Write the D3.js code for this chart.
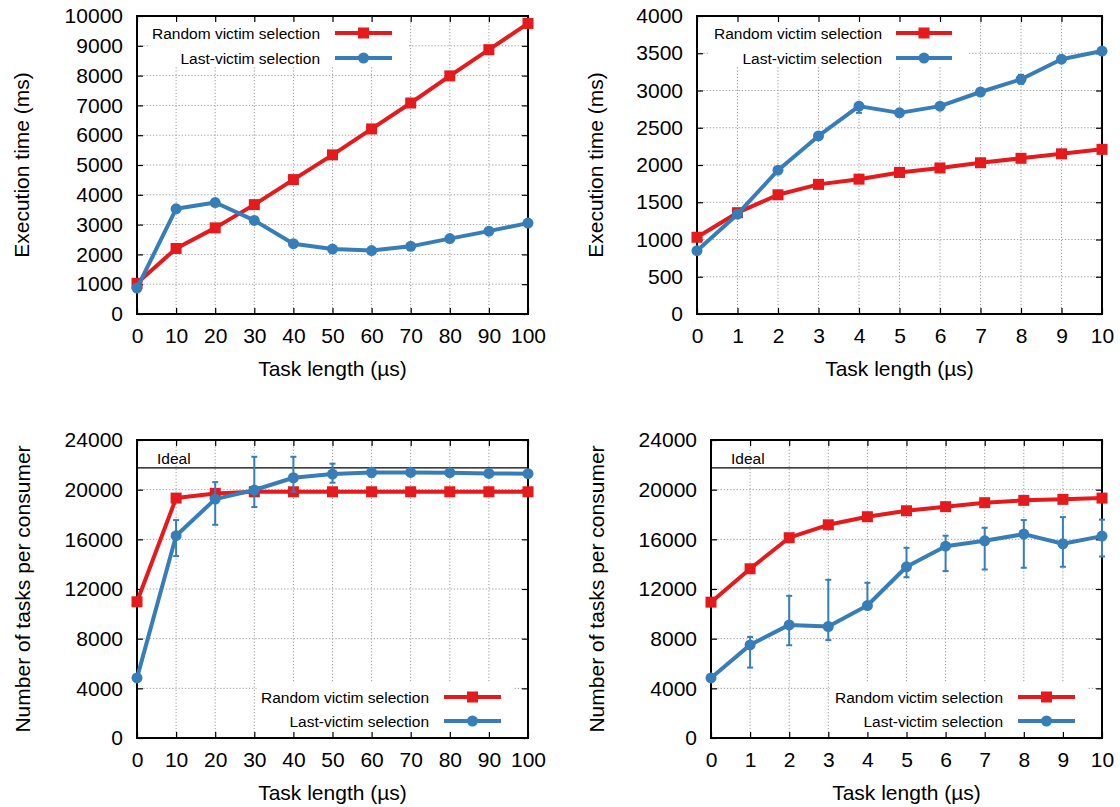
<!DOCTYPE html>
<meta charset="utf-8">
<html>
<style>
  body { margin: 0; background: #fff; }
  svg { display: block; }
  text { font-family: "Liberation Sans", Arial, Helvetica, sans-serif; fill: #000; }
  .tick-label { font-size: 21px; }
  .axis-label { font-size: 21px; }
  .key-label { font-size: 15.5px; }
  .grid line { stroke: #999; stroke-width: 1; stroke-dasharray: 1.2,2; }
</style>
<body>
<svg width="1120" height="807"></svg>
<script src="https://d3js.org/d3.v7.min.js"></script>
<script>

// ---- data ----
var xLong = [0, 10, 20, 30, 40, 50, 60, 70, 80, 90, 100];
var xShort = [0, 1, 2, 3, 4, 5, 6, 7, 8, 9, 10];

var timeTicksLong = [0, 1000, 2000, 3000, 4000, 5000, 6000, 7000, 8000, 9000, 10000];
var timeTicksShort = [0, 500, 1000, 1500, 2000, 2500, 3000, 3500, 4000];
var taskTicks = [0, 4000, 8000, 12000, 16000, 20000, 24000];

var timeLongRandom = [1030, 2200, 2890, 3670, 4510, 5340, 6210, 7080, 7990, 8870, 9750];
var timeLongLast   = [870, 3530, 3740, 3140, 2360, 2180, 2130, 2270, 2530, 2780, 3050];

var timeShortRandom = [1030, 1360, 1600, 1740, 1810, 1900, 1960, 2030, 2090, 2150, 2210];
var timeShortLast   = [850, 1340, 1930, 2390, 2790, 2700, 2790, 2980, 3150, 3420, 3530];
var timeShortLastLo = [null, null, null, null, 2700, null, null, null, 3090, null, null];
var timeShortLastHi = [null, null, null, null, 2830, null, null, null, 3210, null, null];

var tasksLongRandom = [10970, 19320, 19700, 19830, 19830, 19830, 19830, 19830, 19830, 19830, 19830];
var tasksLongLast   = [4840, 16290, 19240, 19970, 20960, 21260, 21390, 21390, 21370, 21310, 21290];
var tasksLongLastLo = [null, 14650, 17170, 18600, 19830, 20560, 21040, 21200, null, null, null];
var tasksLongLastHi = [null, 17550, 20610, 22650, 22650, 22090, 21720, 21580, null, null, null];

var tasksShortRandom = [10940, 13630, 16130, 17170, 17820, 18300, 18630, 18950, 19140, 19220, 19320];
var tasksShortLast   = [4840, 7500, 9110, 8980, 10670, 13790, 15450, 15880, 16420, 15640, 16260];
var tasksShortLastLo = [null, 5670, 7470, 7880, 10400, 12950, 13440, 13570, 13710, 13790, 14620];
var tasksShortLastHi = [null, 8140, 11450, 12740, 12500, 15320, 16290, 16930, 17550, 17790, 17580];

var idealTasks = 21760;

var seriesNames = ["Random victim selection", "Last-victim selection"];
var red = "#e41a1c", blue = "#377eb8";

var svg = d3.select("svg");

var panels = [
  { left: 137, right: 528, top: 16, bottom: 314, x: xLong, xmax: 100, yticks: timeTicksLong,
    ymax: 10000, ylabel: "Execution time (ms)", ylabX: 22,
    random: timeLongRandom, last: timeLongLast, lo: null, hi: null, ideal: null,
    key: { x0: 150, x1: 407, y0: 16, y1: 67, textEnd: 320, lineX0: 335, lineX1: 392, rowY: [33, 58] } },
  { left: 697, right: 1102, top: 16, bottom: 314, x: xShort, xmax: 10, yticks: timeTicksShort,
    ymax: 4000, ylabel: "Execution time (ms)", ylabX: 596,
    random: timeShortRandom, last: timeShortLast, lo: timeShortLastLo, hi: timeShortLastHi, ideal: null,
    key: { x0: 710, x1: 967, y0: 16, y1: 67, textEnd: 882, lineX0: 896, lineX1: 952, rowY: [33, 58] } },
  { left: 137, right: 528, top: 440, bottom: 738, x: xLong, xmax: 100, yticks: taskTicks,
    ymax: 24000, ylabel: "Number of tasks per consumer", ylabX: 23,
    random: tasksLongRandom, last: tasksLongLast, lo: tasksLongLastLo, hi: tasksLongLastHi, ideal: idealTasks,
    key: { x0: 257, x1: 513, y0: 683, y1: 737, textEnd: 429, lineX0: 444, lineX1: 501, rowY: [697, 721] } },
  { left: 711, right: 1102, top: 440, bottom: 738, x: xShort, xmax: 10, yticks: taskTicks,
    ymax: 24000, ylabel: "Number of tasks per consumer", ylabX: 597,
    random: tasksShortRandom, last: tasksShortLast, lo: tasksShortLastLo, hi: tasksShortLastHi, ideal: idealTasks,
    key: { x0: 830, x1: 1088, y0: 683, y1: 737, textEnd: 1003, lineX0: 1018, lineX1: 1075, rowY: [697, 721] } }
];

panels.forEach(drawPanel);

function drawPanel(p) {
  var x = d3.scaleLinear().domain([0, p.xmax]).range([p.left, p.right]);
  var y = d3.scaleLinear().domain([0, p.ymax]).range([p.bottom, p.top]);
  var g = svg.append("g");

  // grid
  var grid = g.append("g").attr("class", "grid");
  grid.selectAll(".gx").data(p.x.slice(1, -1)).enter().append("line")
      .attr("x1", x).attr("x2", x).attr("y1", p.top).attr("y2", p.bottom);
  grid.selectAll(".gy").data(p.yticks.slice(1, -1)).enter().append("line")
      .attr("x1", p.left).attr("x2", p.right).attr("y1", y).attr("y2", y);

  // opaque key box hides the grid
  g.append("rect").attr("x", p.key.x0).attr("y", p.key.y0)
      .attr("width", p.key.x1 - p.key.x0).attr("height", p.key.y1 - p.key.y0)
      .attr("fill", "#fff");

  // ideal line
  if (p.ideal !== null) {
    g.append("line").attr("x1", p.left).attr("x2", p.right)
        .attr("y1", y(p.ideal)).attr("y2", y(p.ideal))
        .attr("stroke", "#000").attr("stroke-width", 1.2);
    g.append("text").attr("class", "key-label")
        .attr("x", p.left + 20).attr("y", y(p.ideal) - 4).text("Ideal");
  }

  // axes via d3 (inward ticks, mirrored)
  var tickLen = 6;
  var axB = d3.axisBottom(x).tickValues(p.x).tickSize(-tickLen).tickPadding(14).tickFormat(d3.format("d"));
  var axT = d3.axisTop(x).tickValues(p.x).tickSize(-tickLen).tickFormat("");
  var axL = d3.axisLeft(y).tickValues(p.yticks).tickSize(-tickLen).tickPadding(14).tickFormat(d3.format("d"));
  var axR = d3.axisRight(y).tickValues(p.yticks).tickSize(-tickLen).tickFormat("");

  [[axB, "translate(0," + p.bottom + ")"], [axT, "translate(0," + p.top + ")"],
   [axL, "translate(" + p.left + ",0)"], [axR, "translate(" + p.right + ",0)"]].forEach(function (a) {
    var ag = g.append("g").attr("transform", a[1]).call(a[0]);
    ag.select(".domain").remove();
    ag.selectAll("line").attr("stroke", "#000").attr("stroke-width", 1.2);
    ag.selectAll("text").attr("class", "tick-label")
        .attr("font-size", null).attr("font-family", null).attr("fill", "#000");
  });

  // frame
  g.append("rect").attr("x", p.left).attr("y", p.top)
      .attr("width", p.right - p.left).attr("height", p.bottom - p.top)
      .attr("fill", "none").attr("stroke", "#000").attr("stroke-width", 2);

  // axis labels
  g.append("text").attr("class", "axis-label").attr("text-anchor", "middle")
      .attr("x", (p.left + p.right) / 2).attr("y", p.bottom + 62).text("Task length (\u00b5s)");
  g.append("text").attr("class", "axis-label").attr("text-anchor", "middle")
      .attr("transform", "translate(" + (p.ylabX + 7) + "," + ((p.top + p.bottom) / 2) + ") rotate(-90)")
      .text(p.ylabel);

  var line = d3.line().x(function (d) { return x(d[0]); }).y(function (d) { return y(d[1]); });

  // random victim (red squares)
  var rd = d3.zip(p.x, p.random);
  g.append("path").datum(rd).attr("d", line).attr("fill", "none")
      .attr("stroke", red).attr("stroke-width", 4).attr("stroke-linejoin", "round");
  g.selectAll(".sq").data(rd).enter().append("rect")
      .attr("x", function (d) { return x(d[0]) - 5.5; }).attr("y", function (d) { return y(d[1]) - 5.5; })
      .attr("width", 11).attr("height", 11).attr("fill", red);

  // last victim (blue circles + error bars)
  var bd = d3.zip(p.x, p.last);
  if (p.lo) {
    var eb = d3.zip(p.x, p.lo, p.hi).filter(function (d) { return d[1] !== null; });
    var ebg = g.append("g").attr("stroke", blue).attr("stroke-width", 2);
    ebg.selectAll(".ev").data(eb).enter().append("line")
        .attr("x1", function (d) { return x(d[0]); }).attr("x2", function (d) { return x(d[0]); })
        .attr("y1", function (d) { return y(d[1]); }).attr("y2", function (d) { return y(d[2]); });
    ebg.selectAll(".elo").data(eb).enter().append("line")
        .attr("x1", function (d) { return x(d[0]) - 3; }).attr("x2", function (d) { return x(d[0]) + 3; })
        .attr("y1", function (d) { return y(d[1]); }).attr("y2", function (d) { return y(d[1]); });
    ebg.selectAll(".ehi").data(eb).enter().append("line")
        .attr("x1", function (d) { return x(d[0]) - 3; }).attr("x2", function (d) { return x(d[0]) + 3; })
        .attr("y1", function (d) { return y(d[2]); }).attr("y2", function (d) { return y(d[2]); });
  }
  g.append("path").datum(bd).attr("d", line).attr("fill", "none")
      .attr("stroke", blue).attr("stroke-width", 4).attr("stroke-linejoin", "round");
  g.selectAll(".ci").data(bd).enter().append("circle")
      .attr("cx", function (d) { return x(d[0]); }).attr("cy", function (d) { return y(d[1]); })
      .attr("r", 5.5).attr("fill", blue);

  // key entries
  var k = p.key;
  seriesNames.forEach(function (name, i) {
    var ky = k.rowY[i];
    var c = i === 0 ? red : blue;
    g.append("text").attr("class", "key-label").attr("text-anchor", "end")
        .attr("x", k.textEnd).attr("y", ky + 5.5).text(name);
    g.append("line").attr("x1", k.lineX0).attr("x2", k.lineX1).attr("y1", ky).attr("y2", ky)
        .attr("stroke", c).attr("stroke-width", 4);
    var mx = (k.lineX0 + k.lineX1) / 2;
    if (i === 0) {
      g.append("rect").attr("x", mx - 5.5).attr("y", ky - 5.5).attr("width", 11).attr("height", 11).attr("fill", c);
    } else {
      g.append("circle").attr("cx", mx).attr("cy", ky).attr("r", 5.5).attr("fill", c);
    }
  });
}

</script>
</body>
</html>
